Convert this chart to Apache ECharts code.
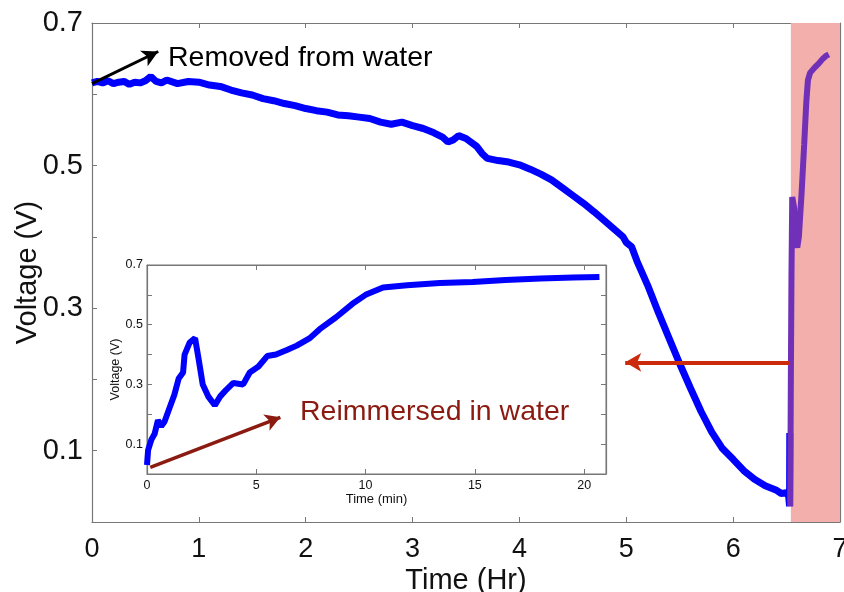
<!DOCTYPE html>
<html>
<head>
<meta charset="utf-8">
<script src="https://cdn.jsdelivr.net/npm/echarts@6/dist/echarts.min.js"></script>
<style>html,body{margin:0;padding:0;background:#fff}#c{width:844px;height:592px}</style>
</head>
<body>
<div id="c"></div>
<script>
// Main trace (hours, volts) - drying out of water
const mainHours = [0,0.05,0.1,0.15,0.2,0.25,0.3,0.35,0.4,0.45,0.5,0.55,0.6,0.65,0.7,0.8,0.9,1.0,1.1,1.2,1.3,1.4,1.5,1.6,1.7,1.8,1.9,2.0,2.1,2.2,2.3,2.4,2.5,2.6,2.7,2.8,2.9,3.0,3.1,3.2,3.28,3.33,3.38,3.43,3.5,3.6,3.65,3.7,3.8,3.9,4.0,4.1,4.2,4.3,4.4,4.5,4.6,4.7,4.8,4.9,4.97,5.0,5.05,5.1,5.2,5.3,5.4,5.5,5.6,5.7,5.8,5.9,6.0,6.1,6.2,6.3,6.4,6.45,6.5,6.52,6.528,6.53];
const mainVolts = [0.616,0.618,0.616,0.619,0.615,0.617,0.618,0.614,0.617,0.616,0.619,0.625,0.618,0.616,0.620,0.615,0.618,0.617,0.613,0.611,0.606,0.602,0.599,0.594,0.591,0.587,0.584,0.580,0.577,0.575,0.571,0.570,0.568,0.566,0.561,0.558,0.561,0.556,0.552,0.546,0.540,0.533,0.536,0.542,0.538,0.527,0.517,0.510,0.507,0.505,0.501,0.495,0.488,0.480,0.469,0.458,0.447,0.435,0.422,0.409,0.400,0.392,0.386,0.366,0.332,0.294,0.258,0.222,0.188,0.155,0.126,0.103,0.088,0.072,0.060,0.051,0.045,0.040,0.041,0.036,0.022,0.125];
// Reimmersion trace as seen in main chart (hours, volts)
const reimHours = [6.534,6.540,6.546,6.553,6.562,6.572,6.585,6.600,6.615,6.640,6.665,6.685,6.700,6.72,6.76,6.80,6.84,6.87,6.895];
const reimVolts = [0.022,0.20,0.35,0.456,0.456,0.440,0.395,0.385,0.400,0.460,0.530,0.590,0.620,0.630,0.637,0.643,0.650,0.654,0.656];
// Inset trace (minutes, volts)
const insetMin = [0,0.05,0.2,0.35,0.5,0.65,0.8,1.05,1.25,1.45,1.65,1.72,1.95,2.2,2.35,2.55,2.8,3.1,3.35,3.6,3.95,4.4,4.7,5.1,5.5,5.9,6.4,6.85,7.45,7.9,8.65,9.4,10.0,10.8,11.9,13.4,14.9,16.4,18.0,19.5,20.7];
const insetVolt = [0.03,0.08,0.115,0.135,0.18,0.16,0.175,0.225,0.265,0.32,0.34,0.40,0.44,0.455,0.39,0.30,0.26,0.23,0.26,0.28,0.305,0.30,0.34,0.36,0.395,0.40,0.415,0.43,0.455,0.485,0.525,0.57,0.60,0.625,0.632,0.64,0.643,0.65,0.655,0.658,0.66];
// Axis ticks
const mainXTicks = [0,1,2,3,4,5,6,7];
const mainYLabels = ['0.1','0.3','0.5','0.7'];
const insetXLabels = ['0','5','10','15','20'];
const insetYLabels = ['0.1','0.3','0.5','0.7'];

const pair = (a,b) => a.map((v,i)=>[v,b[i]]);
const FONT = "'Liberation Sans', Arial, Helvetica, sans-serif";
const NARROW = "'Liberation Sans Narrow', 'Liberation Sans', Arial, sans-serif";
const yFmt = list => v => { const s = (Math.round(v*10)/10).toFixed(1); return list.includes(s) ? s : ''; };
const xFmt = list => v => { const s = String(Math.round(v)); return list.includes(s) ? s : ''; };
const grayLine = {onZero:false,lineStyle:{color:'#777',width:1.2}};
const tickIn = {inside:true,length:5,lineStyle:{color:'#777',width:1}};

const chart = echarts.init(document.getElementById('c'), null, {renderer:'canvas'});
chart.setOption({
  animation:false,
  backgroundColor:'#fff',
  grid:[
    {left:92, top:23, width:748, height:499, show:false, containLabel:false, outerBoundsMode:'none'},
    {left:147, top:265, width:459, height:209, show:true, backgroundColor:'#fff', borderColor:'#777', borderWidth:1, containLabel:false, outerBoundsMode:'none'}
  ],
  xAxis:[
    {gridIndex:0,type:'value',min:0,max:7,interval:1,axisLine:grayLine,axisTick:tickIn,splitLine:{show:false},
     axisLabel:{margin:14,fontSize:27,color:'#111',fontFamily:NARROW,formatter:xFmt(mainXTicks.map(String))},
     name:'Time (Hr)',nameLocation:'middle',nameGap:44,nameMoveOverlap:false,nameTextStyle:{fontSize:29,color:'#111',fontFamily:FONT}},
    {gridIndex:0,type:'value',position:'top',min:0,max:7,interval:1,axisLine:grayLine,axisTick:tickIn,axisLabel:{show:false},splitLine:{show:false}},
    {gridIndex:1,type:'value',min:0,max:21,interval:5,axisLine:grayLine,axisTick:tickIn,splitLine:{show:false},
     axisLabel:{margin:5,fontSize:12.5,color:'#111',fontFamily:NARROW,showMaxLabel:false,formatter:xFmt(insetXLabels)},
     name:'Time (min)',nameLocation:'middle',nameGap:19,nameMoveOverlap:false,nameTextStyle:{fontSize:13,color:'#111',fontFamily:NARROW}},
    {gridIndex:1,type:'value',position:'top',min:0,max:21,interval:5,axisLine:grayLine,axisTick:tickIn,axisLabel:{show:false},splitLine:{show:false}}
  ],
  yAxis:[
    {gridIndex:0,type:'value',min:0,max:0.7,interval:0.1,axisLine:grayLine,axisTick:tickIn,splitLine:{show:false},
     axisLabel:{margin:9,fontSize:29,color:'#111',fontFamily:FONT,formatter:yFmt(mainYLabels)},
     name:'Voltage (V)',nameLocation:'middle',nameGap:50,nameMoveOverlap:false,nameTextStyle:{fontSize:29,color:'#111',fontFamily:FONT}},
    {gridIndex:0,type:'value',position:'right',min:0,max:0.7,interval:0.1,axisLine:grayLine,axisTick:tickIn,axisLabel:{show:false},splitLine:{show:false}},
    {gridIndex:1,type:'value',min:0,max:0.7,interval:0.1,axisLine:grayLine,axisTick:tickIn,splitLine:{show:false},
     axisLabel:{margin:4,fontSize:12.5,color:'#111',fontFamily:FONT,formatter:yFmt(insetYLabels)},
     name:'Voltage (V)',nameLocation:'middle',nameGap:25,nameMoveOverlap:false,nameTextStyle:{fontSize:12.5,color:'#111',fontFamily:FONT}},
    {gridIndex:1,type:'value',position:'right',min:0,max:0.7,interval:0.1,axisLine:grayLine,axisTick:tickIn,axisLabel:{show:false},splitLine:{show:false}}
  ],
  series:[
    {type:'line',xAxisIndex:0,yAxisIndex:0,data:pair(mainHours,mainVolts),showSymbol:false,z:3,
     lineStyle:{color:'#0000ff',width:7},
     markArea:{silent:true,itemStyle:{color:'#f3afac'},data:[[{xAxis:6.54,yAxis:0},{xAxis:7,yAxis:0.7}]]},
     markLine:{silent:true,symbol:['none','arrow'],symbolSize:[13,16],label:{show:false},
       lineStyle:{type:'solid',color:'#000',width:3},
       data:[[{coord:[0,0.615]},{coord:[0.62,0.66]}]]}},
    {type:'line',xAxisIndex:0,yAxisIndex:0,data:pair(reimHours,reimVolts),showSymbol:false,z:4,
     lineStyle:{color:'#7030b8',width:6},
     markLine:{silent:true,symbol:['none','arrow'],symbolSize:[14,16],label:{show:false},
       lineStyle:{type:'solid',color:'#cc2a0c',width:4},
       data:[[{coord:[6.53,0.224]},{coord:[4.99,0.224]}]]}},
    {type:'line',xAxisIndex:2,yAxisIndex:2,data:pair(insetMin,insetVolt),showSymbol:false,z:5,
     lineStyle:{color:'#0000ff',width:6},
     markLine:{silent:true,symbol:['none','arrow'],symbolSize:[13,15],label:{show:false},
       lineStyle:{type:'solid',color:'#8b1a10',width:3.5},
       data:[[{coord:[0.15,0.022]},{coord:[6.1,0.19]}]]}}
  ],
  graphic:[
    {type:'text',x:168,y:58,z:10,style:{text:'Removed from water',fill:'#000',font:"28.5px "+FONT,verticalAlign:'middle',align:'left'}},
    {type:'text',x:300,y:412,z:10,style:{text:'Reimmersed in water',fill:'#8b1a10',font:"28.5px "+FONT,verticalAlign:'middle',align:'left'}}
  ]
});
</script>
</body>
</html>
